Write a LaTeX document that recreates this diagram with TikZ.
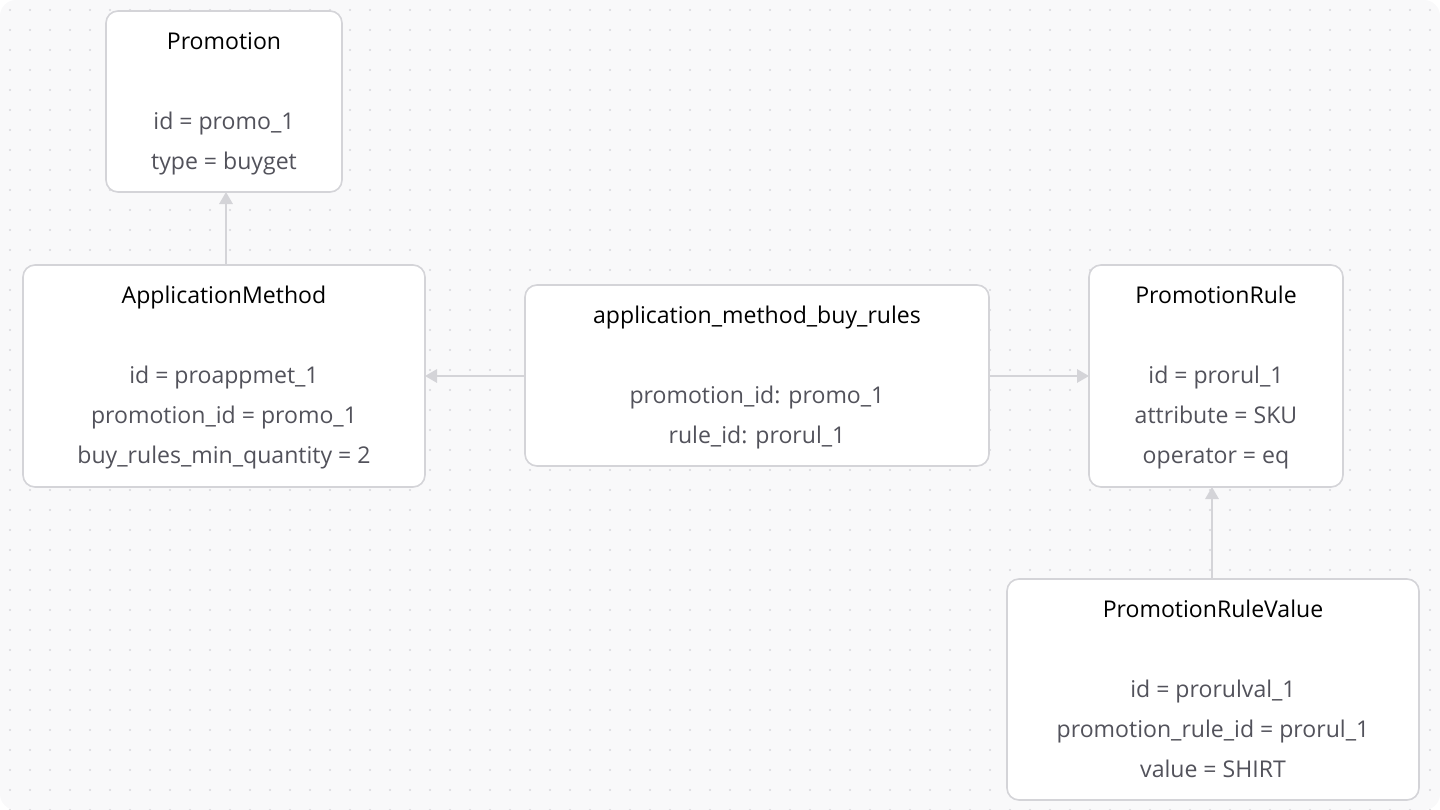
\documentclass[tikz,border=0pt]{standalone}
\usepackage{fontspec}
\setmainfont{Open Sans}
\usetikzlibrary{arrows.meta}
\definecolor{bg}{HTML}{F9F9FA}
\definecolor{dot}{HTML}{D8D8DC}
\definecolor{edge}{HTML}{D4D4D8}
\definecolor{txt}{HTML}{52525B}
\begin{document}
\begin{tikzpicture}[x=0.75pt,y=-0.75pt,
  box/.style={draw=edge,line width=1.2pt,fill=white,rounded corners=9pt},
  ttl/.style={font=\fontsize{17.3}{20}\selectfont,text=black,text height=12.5pt,text depth=3.5pt,inner sep=0pt},
  ln/.style={font=\fontsize{17.3}{20}\selectfont,text=txt,text height=12.5pt,text depth=3.5pt,inner sep=0pt},
  con/.style={draw=edge,line width=1.5pt,-{Triangle[length=9pt,width=10pt]}}]
\useasboundingbox (0,0) rectangle (1440,810);
\fill[bg,rounded corners=12pt] (0,0) rectangle (1440,810);
\foreach \i in {0,...,71}{\foreach \j in {0,...,40}{\fill[dot] (\i*20+10,\j*20+10) circle (0.9pt);}}
% boxes
\draw[box] (106,11) rectangle (342,192);
\node[coordinate] (pb) at (226,192) {};
\node[ttl] (p0) at (224,43) {Promotion};
\node[ln] (p1) at (224,123) {id = promo\_1};
\node[ln] (p2) at (224,163) {type = buyget};

\draw[box] (23,265) rectangle (425,487);
\node[coordinate] (amt) at (226,265) {};
\node[coordinate] (amr) at (425,376) {};
\node[ttl] (a0) at (224,297) {ApplicationMethod};
\node[ln] (a1) at (224,377) {id = proappmet\_1};
\node[ln] (a2) at (224,417) {promotion\_id = promo\_1};
\node[ln] (a3) at (224,457) {buy\_rules\_min\_quantity = 2};

\draw[box] (525,285) rectangle (989,466);
\node[coordinate] (bl) at (525,376) {};
\node[coordinate] (br) at (989,376) {};
\node[ttl] (b0) at (757,317) {application\_method\_buy\_rules};
\node[ln] (b1) at (757,397) {promotion\_id: promo\_1};
\node[ln] (b2) at (757,437) {rule\_id: prorul\_1};

\draw[box] (1089,265) rectangle (1343,487);
\node[coordinate] (rl) at (1089,376) {};
\node[coordinate] (rb) at (1212,487) {};
\node[ttl] (r0) at (1216,297) {PromotionRule};
\node[ln] (r1) at (1216,377) {id = prorul\_1};
\node[ln] (r2) at (1216,417) {attribute = SKU};
\node[ln] (r3) at (1216,457) {operator = eq};

\draw[box] (1007,579) rectangle (1419,800);
\node[coordinate] (vt) at (1212,579) {};
\node[ttl] (v0) at (1213,611) {PromotionRuleValue};
\node[ln] (v1) at (1213,691) {id = prorulval\_1};
\node[ln] (v2) at (1213,731) {promotion\_rule\_id = prorul\_1};
\node[ln] (v3) at (1213,771) {value = SHIRT};

\draw[con] (amt) -- (pb);
\draw[con] (bl) -- (amr);
\draw[con] (br) -- (rl);
\draw[con] (vt) -- (rb);
\end{tikzpicture}
\end{document}
